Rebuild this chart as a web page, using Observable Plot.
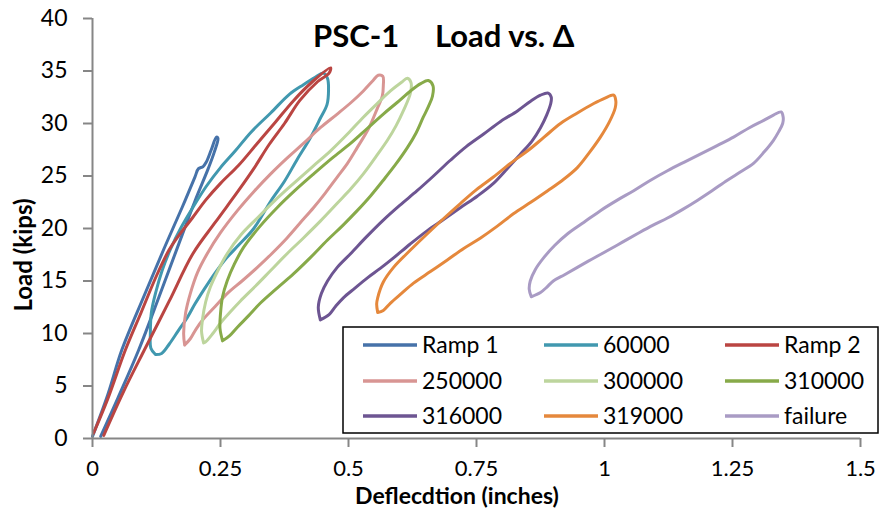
<!DOCTYPE html>
<html><head><meta charset="utf-8">
<script src="https://cdn.jsdelivr.net/npm/d3@7"></script>
<script src="https://cdn.jsdelivr.net/npm/@observablehq/plot@0.6"></script>
<style>body{margin:0;background:#fff;} #chart{width:879px;height:508px;}</style>
</head><body><div id="chart"></div>
<script>
const seriesNames = ["Ramp 1","60000","Ramp 2","250000","300000","310000","316000","319000","failure"];
const seriesColors = ["#4672A9","#4198AF","#BA4542","#D89593","#BDD59D","#87AA49","#6D5592","#E5883C","#A99BC4"];
const xTicks = [0,0.25,0.5,0.75,1,1.25,1.5];
const xTickLabels = ["0","0.25","0.5","0.75","1","1.25","1.5"];
const yTicks = [0,5,10,15,20,25,30,35,40];

const ramp1 = [[0.000,0.2],[0.030,4.2],[0.057,8.4],[0.100,13.5],[0.139,18.0],[0.175,22.0],[0.200,24.9],[0.207,25.7],[0.216,25.9],[0.222,26.3],[0.232,27.5],[0.242,28.7],[0.245,28.6],[0.238,27.3],[0.226,25.7],[0.200,22.6],[0.166,18.2],[0.130,13.5],[0.090,8.4],[0.050,3.9],[0.016,0.2]];
const c60000 = [[0.123,8.0],[0.114,8.6],[0.113,10.0],[0.115,12.0],[0.124,14.0],[0.136,16.0],[0.152,18.0],[0.172,20.0],[0.196,22.0],[0.222,24.0],[0.250,25.8],[0.279,27.4],[0.310,29.2],[0.348,31.0],[0.385,32.8],[0.412,33.7],[0.435,34.4],[0.451,34.8],[0.459,34.3],[0.461,33.2],[0.458,31.8],[0.445,30.5],[0.425,28.6],[0.400,26.6],[0.375,24.5],[0.348,22.6],[0.315,20.0],[0.285,18.4],[0.262,17.2],[0.240,15.8],[0.218,14.2],[0.200,12.8],[0.185,11.5],[0.168,10.3],[0.150,9.0],[0.135,8.1],[0.123,8.0]];
const ramp2 = [[0.002,0.5],[0.030,3.8],[0.064,8.4],[0.095,12.0],[0.125,15.5],[0.150,18.0],[0.168,19.3],[0.195,21.0],[0.221,22.7],[0.250,24.3],[0.285,26.0],[0.320,28.0],[0.355,30.0],[0.393,32.2],[0.430,34.0],[0.465,35.3],[0.462,34.8],[0.440,34.0],[0.405,32.2],[0.375,30.0],[0.345,28.0],[0.315,25.7],[0.285,23.6],[0.240,20.6],[0.196,17.6],[0.150,13.1],[0.101,8.4],[0.060,4.4],[0.022,0.3]];
const c250000 = [[0.180,8.9],[0.178,10.0],[0.182,12.0],[0.191,13.8],[0.205,15.8],[0.224,17.6],[0.250,19.6],[0.283,21.7],[0.315,23.5],[0.348,25.2],[0.380,26.7],[0.412,28.1],[0.445,29.6],[0.478,30.9],[0.505,32.0],[0.529,33.1],[0.548,34.1],[0.558,34.6],[0.567,34.5],[0.568,33.6],[0.566,32.6],[0.556,31.4],[0.540,29.6],[0.517,27.7],[0.498,26.2],[0.478,24.9],[0.455,23.4],[0.432,22.0],[0.405,20.5],[0.380,19.1],[0.350,17.6],[0.322,16.3],[0.292,15.0],[0.263,13.8],[0.240,12.6],[0.217,11.4],[0.202,10.4],[0.191,9.5],[0.180,8.9]];
const c300000 = [[0.217,9.1],[0.213,10.2],[0.215,11.4],[0.221,13.0],[0.230,14.4],[0.245,16.0],[0.263,17.6],[0.290,19.4],[0.322,21.0],[0.357,22.7],[0.393,24.3],[0.430,25.9],[0.465,27.4],[0.498,29.0],[0.529,30.6],[0.556,31.9],[0.582,33.1],[0.603,33.9],[0.615,34.3],[0.622,33.9],[0.621,32.9],[0.607,31.2],[0.593,29.8],[0.576,28.4],[0.553,26.8],[0.529,25.2],[0.505,23.8],[0.478,22.4],[0.445,20.7],[0.412,19.1],[0.380,17.6],[0.348,16.0],[0.318,14.5],[0.289,13.1],[0.268,12.0],[0.250,11.0],[0.235,10.0],[0.221,9.2],[0.217,9.1]];
const c310000 = [[0.254,9.3],[0.249,10.5],[0.250,11.9],[0.254,13.5],[0.263,15.0],[0.277,16.6],[0.295,18.2],[0.327,20.2],[0.361,22.0],[0.395,23.6],[0.432,25.2],[0.468,26.7],[0.504,28.1],[0.536,29.5],[0.568,30.9],[0.595,32.0],[0.621,33.1],[0.641,33.8],[0.656,34.1],[0.665,33.6],[0.664,32.6],[0.656,31.6],[0.646,30.6],[0.632,29.1],[0.615,27.7],[0.592,26.1],[0.568,24.6],[0.543,23.1],[0.517,21.7],[0.489,20.3],[0.459,18.9],[0.425,17.2],[0.393,15.7],[0.360,14.3],[0.328,12.9],[0.305,11.7],[0.283,10.6],[0.268,9.8],[0.254,9.3]];
const c316000 = [[0.445,11.3],[0.441,12.5],[0.447,13.8],[0.459,15.0],[0.478,16.3],[0.504,17.6],[0.535,19.2],[0.568,20.8],[0.600,22.2],[0.634,23.6],[0.666,25.0],[0.699,26.5],[0.730,27.8],[0.764,29.0],[0.797,30.2],[0.830,31.2],[0.855,32.1],[0.875,32.7],[0.890,32.9],[0.896,32.5],[0.895,31.9],[0.887,30.8],[0.875,29.6],[0.858,28.3],[0.836,27.1],[0.810,25.7],[0.783,24.3],[0.752,23.1],[0.719,22.0],[0.687,20.9],[0.654,19.8],[0.620,18.5],[0.588,17.2],[0.562,16.2],[0.537,15.3],[0.512,14.3],[0.490,13.4],[0.475,12.6],[0.462,11.8],[0.445,11.3]];
const c319000 = [[0.557,12.0],[0.555,12.8],[0.557,13.4],[0.568,14.9],[0.588,16.3],[0.620,17.9],[0.654,19.5],[0.687,21.0],[0.719,22.4],[0.750,23.7],[0.783,24.9],[0.816,26.2],[0.850,27.4],[0.882,28.7],[0.914,30.0],[0.947,31.0],[0.979,31.9],[1.000,32.4],[1.018,32.7],[1.022,32.2],[1.021,31.5],[1.010,30.2],[0.992,28.7],[0.970,27.2],[0.947,25.8],[0.918,24.6],[0.889,23.6],[0.856,22.5],[0.822,21.4],[0.790,20.2],[0.758,19.1],[0.725,18.1],[0.693,17.0],[0.660,15.9],[0.627,14.8],[0.603,13.8],[0.582,12.9],[0.568,12.2],[0.557,12.0]];
const failure = [[0.857,13.5],[0.853,14.2],[0.855,15.0],[0.865,16.1],[0.881,17.2],[0.903,18.4],[0.928,19.5],[0.960,20.6],[0.992,21.7],[1.025,22.7],[1.057,23.6],[1.090,24.6],[1.123,25.5],[1.155,26.3],[1.188,27.1],[1.220,27.9],[1.252,28.7],[1.283,29.6],[1.311,30.3],[1.330,30.8],[1.345,31.1],[1.349,30.6],[1.348,30.0],[1.340,29.2],[1.330,28.4],[1.312,27.3],[1.291,26.2],[1.266,25.4],[1.240,24.6],[1.210,23.6],[1.182,22.7],[1.152,21.8],[1.123,21.0],[1.094,20.3],[1.064,19.5],[1.035,18.7],[1.006,17.9],[0.976,17.1],[0.947,16.3],[0.922,15.6],[0.900,15.0],[0.887,14.4],[0.875,13.9],[0.857,13.5]];

const seriesData = [ramp1, c60000, ramp2, c250000, c300000, c310000, c316000, c319000, failure];
const rows = seriesData.flatMap((pts, i) => pts.map(([x, y]) => ({series: seriesNames[i], x, y})));

const axisGray = "#868686";
const chart = Plot.plot({
  width: 879, height: 508,
  marginLeft: 92, marginRight: 19, marginTop: 18, marginBottom: 70,
  style: {fontFamily: "Lato, sans-serif", background: "#fff", color: "#000"},
  x: {domain: [0, 1.5]},
  y: {domain: [0, 40]},
  color: {domain: seriesNames, range: seriesColors},
  marks: [
    Plot.line(rows, {x: "x", y: "y", z: "series", stroke: "series", strokeWidth: 3, curve: "catmull-rom"}),
    Plot.ruleX([0], {stroke: axisGray, strokeWidth: 2}),
    Plot.ruleY([0], {stroke: axisGray, strokeWidth: 2}),
    Plot.axisX({ticks: xTicks, tickFormat: (d) => xTickLabels[xTicks.indexOf(d)], tickSize: 9, tickPadding: 13, fontSize: 22, stroke: axisGray, strokeWidth: 2, fill: "#000", label: null}),
    Plot.axisY({ticks: yTicks, tickSize: 9, tickPadding: 16, fontSize: 23, stroke: axisGray, strokeWidth: 2, fill: "#000", label: null})
  ]
});
document.getElementById("chart").appendChild(chart);

const svg = d3.select(chart);
const t = svg.append("g").attr("font-family", "Lato, sans-serif").attr("font-weight", "bold").attr("fill", "#000");
t.append("text").attr("x", 313).attr("y", 47).attr("font-size", 31).attr("text-anchor", "start").text("PSC-1");
t.append("text").attr("x", 435).attr("y", 47).attr("font-size", 31).attr("text-anchor", "start").text("Load vs. Δ");
t.append("text").attr("x", 457).attr("y", 504).attr("font-size", 23).attr("text-anchor", "middle").text("Deflecdtion (inches)");
t.append("text").attr("transform", "translate(32,255) rotate(-90)").attr("font-size", 24).attr("text-anchor", "middle").text("Load (kips)");

const lg = svg.append("g").attr("font-family", "Lato, sans-serif");
lg.append("rect").attr("x", 343).attr("y", 327).attr("width", 535).attr("height", 106).attr("fill", "#fff").attr("stroke", "#000").attr("stroke-width", 1.5);
const rowY = [345, 381, 416];
const colX = [363, 544, 725];
seriesNames.forEach((name, i) => {
  const x0 = colX[i % 3], y0 = rowY[Math.floor(i / 3)];
  lg.append("line").attr("x1", x0).attr("x2", x0 + 54).attr("y1", y0).attr("y2", y0).attr("stroke", seriesColors[i]).attr("stroke-width", 3.5);
  lg.append("text").attr("x", x0 + 59).attr("y", y0 + 8).attr("font-size", 23).attr("fill", "#000").attr("text-anchor", "start").text(name);
});
</script>
</body></html>
